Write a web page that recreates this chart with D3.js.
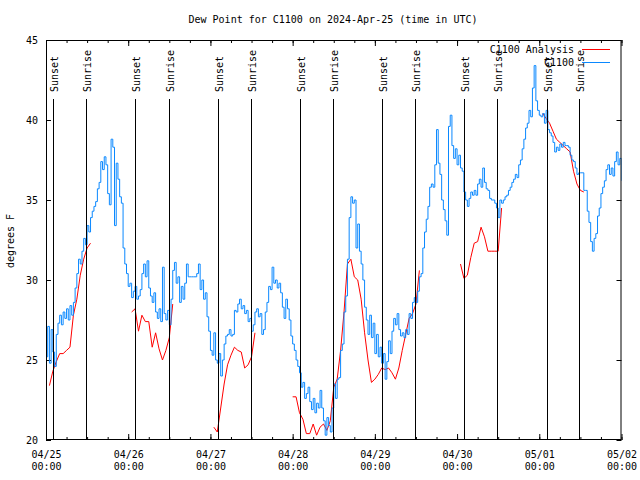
<!DOCTYPE html>
<html><head><meta charset="utf-8">
<script src="https://cdn.jsdelivr.net/npm/d3@7"></script>
<style>
body{margin:0;background:#fff}
svg{display:block}
text{font-family:"DejaVu Sans Mono","Liberation Mono",monospace;font-size:10px;fill:#000}
</style>
</head><body>
<svg id="chart" width="640" height="480"></svg>
<script>
// ---------------- data ----------------
const titleText = "Dew Point for C1100 on 2024-Apr-25 (time in UTC)";
const yLabelText = "degrees F";
const seriesNames = ["C1100 Analysis", "C1100"];
const startUTC = "2024-04-25T00:00:00Z";
const endUTC = "2024-05-02T00:00:00Z";

// observed dew point (C1100), every 30 minutes from 04/25 00:00 (one row = 5 hours)
const obsStepMinutes = 30;
const dewPoint = [
 25.2,27.1,24.8,26.9,25.5,24.6,26.6,27.3,27.8,27.2,
 28.0,27.6,28.2,27.5,28.4,27.8,28.6,29.5,30.4,31.3,
 31.0,31.8,32.6,32.2,33.4,33.0,33.9,34.3,34.6,34.9,
 35.7,36.1,37.4,36.9,37.7,37.2,35.4,34.7,38.8,38.3,
 33.4,37.3,36.3,35.2,34.8,32.0,31.0,30.4,29.6,29.8,
 28.9,29.3,29.6,28.8,29.0,29.4,30.4,31.0,30.2,31.2,
 29.5,29.0,28.6,29.2,28.0,27.6,28.2,27.4,30.8,27.9,
 27.5,28.1,27.2,28.8,30.6,31.1,29.8,30.2,28.6,29.6,
 28.8,29.8,31.0,30.2,30.2,30.2,30.2,30.2,30.4,31.0,
 29.4,30.0,28.8,29.2,27.7,26.8,25.6,25.3,26.7,25.0,
 24.8,25.4,24.0,25.0,26.0,26.5,26.6,26.9,26.5,26.6,
 28.1,28.0,28.5,28.8,28.2,28.4,27.9,28.1,27.4,27.6,
 26.8,27.2,28.0,28.2,27.7,27.9,26.6,26.9,28.0,28.6,
 29.6,29.4,30.8,29.8,30.0,29.5,29.8,29.2,28.3,27.6,
 28.8,28.2,27.5,26.5,26.0,25.6,25.0,24.6,24.2,23.3,
 23.6,22.6,22.9,23.3,22.4,21.9,22.6,21.7,22.3,22.0,
 23.1,22.0,21.2,20.3,21.4,20.9,20.5,22.0,23.5,22.6,
 23.8,23.9,25.6,26.0,28.0,29.0,31.3,33.9,35.2,34.8,
 35.0,32.0,33.5,31.8,31.0,30.0,28.3,27.5,26.6,27.8,
 26.4,27.3,25.4,26.6,25.2,25.8,24.8,25.4,23.8,24.9,
 26.2,25.4,26.8,27.6,27.2,27.9,26.9,26.5,26.7,26.4,
 26.9,26.6,27.9,27.6,28.6,28.9,28.6,29.3,30.2,30.4,
 32.0,33.0,33.8,34.6,35.8,36.0,35.8,37.2,39.4,37.3,
 36.6,35.0,34.4,33.7,32.8,39.6,40.3,38.4,37.6,38.2,
 37.2,37.8,37.0,36.8,35.5,35.0,34.6,35.1,35.5,35.3,
 35.6,35.3,36.0,36.3,35.8,37.0,36.1,35.7,35.6,35.1,
 35.0,35.0,34.8,34.5,33.9,35.0,34.8,35.0,35.2,35.3,
 35.6,35.8,36.1,36.3,36.6,36.4,37.2,37.5,38.2,38.8,
 39.5,39.8,40.6,40.2,42.0,43.4,41.2,40.6,40.3,40.2,
 40.4,39.8,40.6,39.4,39.2,39.0,38.6,38.0,38.3,38.1,
 38.5,38.3,38.6,38.4,38.4,38.3,37.8,37.5,37.4,37.0,
 36.6,36.7,36.7,36.7,35.6,35.6,34.3,33.6,32.4,31.8,
 32.6,32.9,34.0,34.5,35.4,35.8,36.2,36.9,37.2,36.6,
 37.0,36.5,37.4,38.0,37.2,37.6,36.2
];

// analysis series: segments of hourly values, each starting at the given hour
const analysisStartHours = [1, 25, 49, 72, 121, 145];
const analysisSegments = [
 [23.4,24.3,24.9,25.4,25.4,25.6,25.8,27.8,28.8,30.3,31.3,32.0,32.3],
 [28.0,28.2,26.8,27.8,27.4,27.4,25.8,26.7,25.7,25.0,25.6,26.4,28.5],
 [20.8,20.5,22.0,23.5,24.7,25.3,25.8,25.6,25.5,24.5,24.7,25.2,26.7],
 [22.7,22.7,21.7,21.3,20.4,20.4,21.0,20.3,20.8,21.0,20.6,21.2,23.3,23.8,25.6,28.0,31.0,31.3,30.2,30.0,
  28.8,26.7,25.0,23.6,23.8,24.1,24.5,24.4,24.5,24.2,23.8,24.5,25.6,26.6,27.6,27.9,28.5,30.6],
 [31.0,30.1,30.3,31.4,32.3,32.4,33.3,32.7,31.8,31.8,31.8,31.8,34.5],
 [40.4,40.1,39.8,39.3,38.8,38.6,38.4,38.2,38.0,36.8,36.0,35.6,35.5]
];

const sunsets = ["2024-04-25T02:05Z","2024-04-26T02:06Z","2024-04-27T02:07Z","2024-04-28T02:08Z",
                 "2024-04-29T02:09Z","2024-04-30T02:10Z","2024-05-01T02:11Z"];
const sunrises = ["2024-04-25T11:48Z","2024-04-26T11:47Z","2024-04-27T11:46Z","2024-04-28T11:45Z",
                  "2024-04-29T11:44Z","2024-04-30T11:43Z","2024-05-01T11:42Z"];
const yTickValues = [20, 25, 30, 35, 40, 45];
const colors = {analysis: "#ff0000", obs: "#0a88ff"};

// ---------------- chart ----------------
const svg = d3.select("#chart");
const L = 46, R = 621.5, T = 40, B = 440;
const t0 = new Date(startUTC), t1 = new Date(endUTC);
const x = d3.scaleUtc().domain([t0, t1]).range([L, R]);
const y = d3.scaleLinear().domain([20, 45]).range([B, T]);
const hourDate = h => d3.utcHour.offset(t0, h);

// title
svg.append("text").attr("x", 333).attr("y", 23).attr("text-anchor", "middle").text(titleText);
// y label
svg.append("text").attr("transform", "translate(14,241) rotate(-90)")
  .attr("text-anchor", "middle").text(yLabelText);

// x axis bottom (major daily, labels two lines)
const xAxis = d3.axisBottom(x).ticks(d3.utcDay.every(1)).tickSize(-6).tickSizeOuter(0)
  .tickPadding(0).tickFormat(d3.utcFormat("%m/%d"));
const gx = svg.append("g").attr("transform", `translate(0,${B})`).call(xAxis);
gx.select(".domain").remove();
gx.selectAll("text").each(function(d){
  const t = d3.select(this);
  t.text(null).attr("y", 0).attr("dy", null);
  t.append("tspan").attr("x", 0).attr("y", 18).text(d3.utcFormat("%m/%d")(d));
  t.append("tspan").attr("x", 0).attr("y", 30).text(d3.utcFormat("%H:%M")(d));
});
// minor x ticks (6h)
const xMinor = d3.axisBottom(x).ticks(d3.utcHour.every(6)).tickSize(-3).tickSizeOuter(0).tickFormat("");
const gxm = svg.append("g").attr("transform", `translate(0,${B})`).call(xMinor);
gxm.select(".domain").remove();
// top ticks
const xTop = d3.axisTop(x).ticks(d3.utcDay.every(1)).tickSize(-6).tickSizeOuter(0).tickFormat("");
const gxt = svg.append("g").attr("transform", `translate(0,${T})`).call(xTop);
gxt.select(".domain").remove();
const xTopMinor = d3.axisTop(x).ticks(d3.utcHour.every(6)).tickSize(-3).tickSizeOuter(0).tickFormat("");
const gxtm = svg.append("g").attr("transform", `translate(0,${T})`).call(xTopMinor);
gxtm.select(".domain").remove();

// y axes
const yAxis = d3.axisLeft(y).tickValues(yTickValues).tickSize(-5).tickSizeOuter(0).tickPadding(8)
  .tickFormat(d3.format("d"));
const gy = svg.append("g").attr("transform", `translate(${L},0)`).call(yAxis);
gy.select(".domain").remove();
const yRight = d3.axisRight(y).tickValues(yTickValues).tickSize(-5).tickSizeOuter(0).tickFormat("");
const gyr = svg.append("g").attr("transform", `translate(${R},0)`).call(yRight);
gyr.select(".domain").remove();

svg.selectAll(".tick line").attr("stroke", "#000").attr("stroke-width", 1);
[gx, gxm, gxt, gxtm, gy, gyr].forEach(g => g.attr("font-family", null).attr("font-size", null));

// data lines
const clipId = "plotclip";
svg.append("clipPath").attr("id", clipId).append("rect")
  .attr("x", L).attr("y", T).attr("width", R - L).attr("height", B - T);
const plot = svg.append("g").attr("clip-path", `url(#${clipId})`);

const redLine = d3.line().x(d => x(d.t)).y(d => y(d.v));
analysisSegments.forEach((seg, i) => {
  const pts = seg.map((v, j) => ({t: hourDate(analysisStartHours[i] + j), v}));
  plot.append("path").datum(pts).attr("d", redLine)
    .attr("fill", "none").attr("stroke", colors.analysis).attr("stroke-width", 1);
});

const blueLine = d3.line().x(d => x(d.t)).y(d => y(d.v)).curve(d3.curveStepAfter);
const obsPts = dewPoint.map((v, i) => ({t: d3.utcMinute.offset(t0, i * obsStepMinutes), v}));
plot.append("path").datum(obsPts).attr("d", blueLine)
  .attr("fill", "none").attr("stroke", colors.obs).attr("stroke-width", 1);

// sunset / sunrise markers
const events = sunsets.map(s => ({t: new Date(s), label: "Sunset"}))
  .concat(sunrises.map(s => ({t: new Date(s), label: "Sunrise"})));
events.forEach(e => {
  const xp = Math.round(x(e.t)) + 0.5;
  svg.append("line").attr("x1", xp).attr("x2", xp).attr("y1", 99).attr("y2", B)
    .attr("stroke", "#000").attr("stroke-width", 1);
  svg.append("text").attr("transform", `translate(${xp + 4.5},92) rotate(-90)`)
    .attr("text-anchor", "start").text(e.label);
});

// frame
svg.append("rect").attr("x", L + 0.5).attr("y", T + 0.5).attr("width", R - L - 1).attr("height", B - T - 1)
  .attr("fill", "none").attr("stroke", "#000").attr("stroke-width", 1);

// legend
const legendRows = [{name: seriesNames[0], color: colors.analysis, y: 49},
                    {name: seriesNames[1], color: colors.obs, y: 62}];
legendRows.forEach(r => {
  svg.append("text").attr("x", 574).attr("y", r.y + 4).attr("text-anchor", "end").text(r.name);
  svg.append("line").attr("x1", 582).attr("x2", 610).attr("y1", r.y + 0.5).attr("y2", r.y + 0.5)
    .attr("stroke", r.color).attr("stroke-width", 1);
});
</script>
</body></html>
